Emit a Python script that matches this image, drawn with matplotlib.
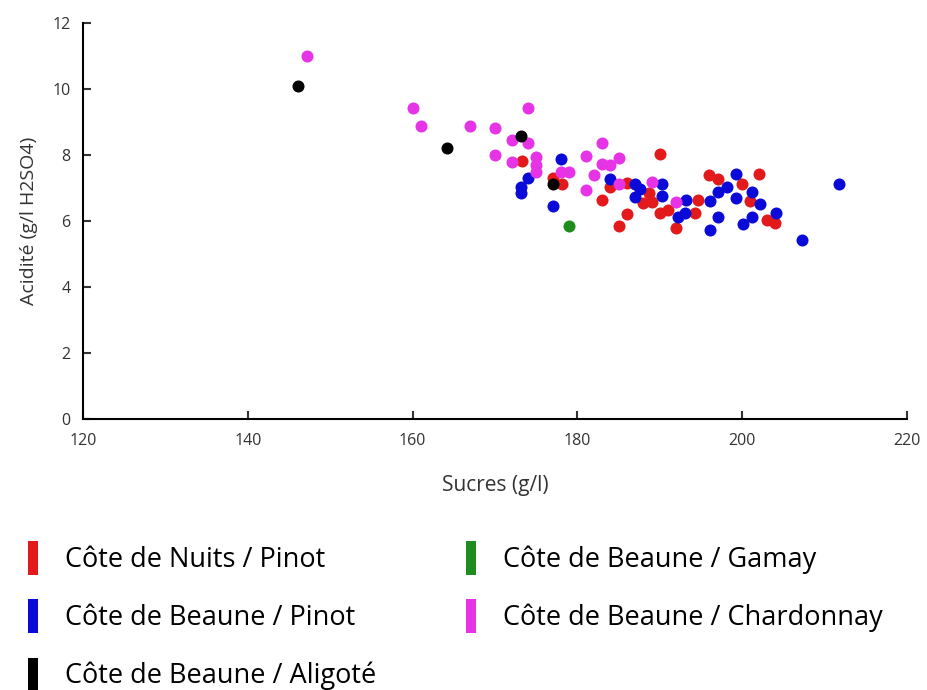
import matplotlib.pyplot as plt
from matplotlib.patches import Patch

plt.rcParams['font.family'] = ['Open Sans', 'DejaVu Sans']

# Côte de Nuits / Pinot
nuits_pinot_x = [173.3, 177, 178.1, 184, 186, 183, 186, 185, 190, 188.7, 188, 189,
                 190, 191, 192, 194.3, 194.6, 196, 197, 202, 200, 201, 203, 204]
nuits_pinot_y = [7.8, 7.3, 7.1, 7.03, 7.15, 6.62, 6.21, 5.85, 8.03, 6.85, 6.55, 6.58,
                 6.24, 6.33, 5.79, 6.24, 6.64, 7.39, 7.27, 7.42, 7.12, 6.61, 6.03, 5.94]
# Côte de Beaune / Pinot
beaune_pinot_x = [178, 174, 173.2, 173.2, 177, 184, 187, 187.6, 187, 190.3, 190.3, 193.2,
                  192.2, 193.1, 199.2, 198.2, 197.1, 201.2, 196.1, 199.2, 202.2, 197.1,
                  201.2, 200.1, 204.1, 196.1, 207.3, 211.7]
beaune_pinot_y = [7.88, 7.3, 7.03, 6.85, 6.45, 7.27, 7.12, 6.97, 6.73, 7.12, 6.76, 6.64,
                  6.12, 6.24, 7.42, 7.03, 6.88, 6.88, 6.61, 6.7, 6.52, 6.12,
                  6.12, 5.91, 6.24, 5.73, 5.42, 7.12]
# Côte de Beaune / Aligoté
aligote_x = [146.1, 164.2, 173.2, 177]
aligote_y = [10.09, 8.21, 8.58, 7.12]
# Côte de Beaune / Gamay
gamay_x = [179]
gamay_y = [5.85]
# Côte de Beaune / Chardonnay
chardonnay_x = [147.2, 160, 174, 161, 167, 170, 172, 174, 170, 172, 175, 175, 175, 178,
                179, 181, 183, 183, 185, 184, 182, 181, 185, 189, 192]
chardonnay_y = [11.0, 9.42, 9.42, 8.88, 8.88, 8.82, 8.45, 8.36, 8.0, 7.79, 7.94, 7.7, 7.48,
                7.48, 7.48, 7.97, 8.36, 7.73, 7.91, 7.7, 7.39, 6.94, 7.12, 7.18, 6.58]

labels = ['Côte de Nuits / Pinot', 'Côte de Beaune / Pinot', 'Côte de Beaune / Aligoté',
          'Côte de Beaune / Gamay', 'Côte de Beaune / Chardonnay']
colors = ['#e31a1c', '#0a0ad8', '#000000', '#1e8c1e', '#e633e6']

fig = plt.figure(figsize=(9.27, 6.9), dpi=100)
ax = fig.add_axes([0.0895, 0.393, 0.889, 0.574])

s = 75
ax.scatter(nuits_pinot_x, nuits_pinot_y, s=s, color=colors[0], lw=0, zorder=2)
ax.scatter(beaune_pinot_x, beaune_pinot_y, s=s, color=colors[1], lw=0, zorder=2)
ax.scatter(gamay_x, gamay_y, s=s, color=colors[3], lw=0, zorder=2)
ax.scatter(chardonnay_x, chardonnay_y, s=s, color=colors[4], lw=0, zorder=2)
ax.scatter(aligote_x, aligote_y, s=s, color=colors[2], lw=0, zorder=3)

ax.set_xlim(120, 220)
ax.set_ylim(0, 12)
ax.set_xticks(range(120, 221, 20))
ax.set_yticks(range(0, 13, 2))
ax.spines['top'].set_visible(False)
ax.spines['right'].set_visible(False)
for sp in ['left', 'bottom']:
    ax.spines[sp].set_linewidth(1.5)
ax.tick_params(direction='in', length=6, width=1.5, labelsize=11.5, colors='#333333')
ax.tick_params(axis='x', pad=10)
ax.tick_params(axis='y', pad=9)
ax.set_xlabel('Sucres (g/l)', fontsize=15, color='#333333', labelpad=19)
ax.set_ylabel('Acidité (g/l H2SO4)', fontsize=14, color='#333333', labelpad=10)

handles = [Patch(facecolor=c, edgecolor='none') for c in colors]
fig.legend(handles, labels, ncol=2, loc='upper left', bbox_to_anchor=(0.030, 0.216),
           frameon=False, fontsize=19.5, handlelength=0.38, handleheight=1.55,
           handletextpad=1.0, labelspacing=0.9, columnspacing=3.3,
           borderaxespad=0, borderpad=0)

fig.savefig('out.png', dpi=100)
